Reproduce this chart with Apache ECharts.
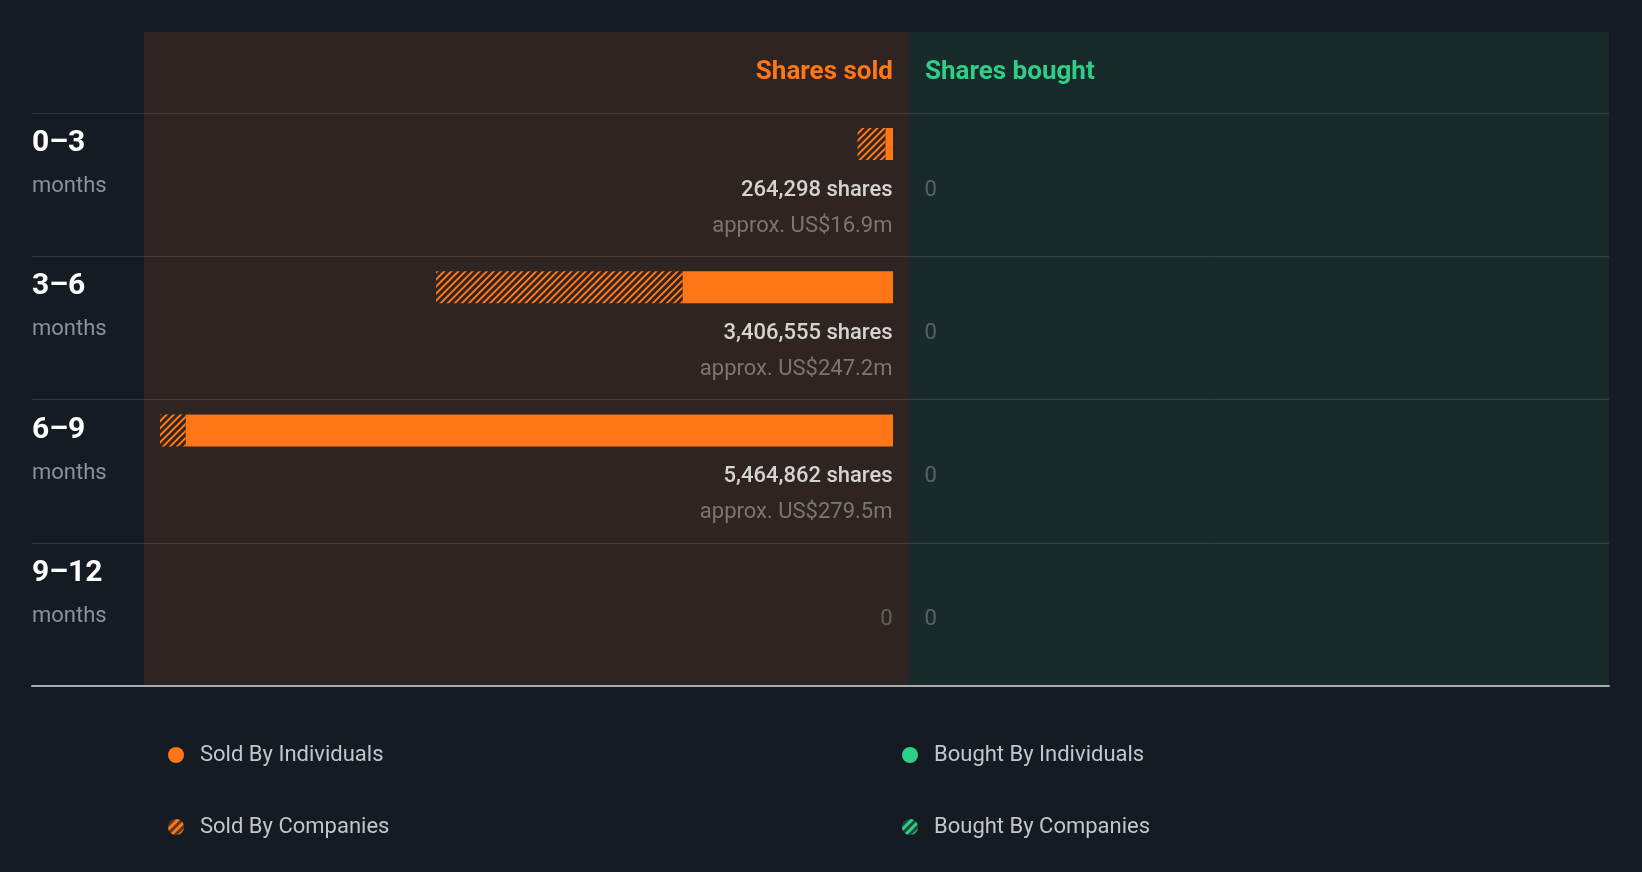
<!DOCTYPE html>
<html>
<head>
<meta charset="utf-8">
<script src="https://cdn.jsdelivr.net/npm/echarts@6/dist/echarts.min.js"></script>
<style>
html,body{margin:0;padding:0;background:#151b23;}
#chart{width:1642px;height:872px;}
</style>
</head>
<body>
<div id="chart"></div>
<script>
const categories = ['0–3', '3–6', '6–9', '9–12'];
const periodUnit = 'months';
const soldByIndividuals = [56000, 1568000, 5273000, 0];
const soldByCompanies = [208298, 1838555, 191862, 0];
const boughtByIndividuals = [0, 0, 0, 0];
const boughtByCompanies = [0, 0, 0, 0];
const soldValueUSDm = [16.9, 247.2, 279.5, 0];
const boughtValueUSDm = [0, 0, 0, 0];
const headerSold = 'Shares sold';
const headerBought = 'Shares bought';

const ORANGE = '#ff7617';
const GREEN = '#2fcd85';
const BG = '#151b23';
const SOLD_BG = '#2e2422';
const BOUGHT_BG = '#182b2a';
const FONT = 'Roboto, "Noto Sans", sans-serif';

const soldTotals = soldByIndividuals.map((v, i) => v + soldByCompanies[i]);
const boughtTotals = boughtByIndividuals.map((v, i) => v + boughtByCompanies[i]);
const axisMax = Math.max(...soldTotals, ...boughtTotals);

function hatch(color) {
  return { symbol: 'rect', symbolSize: 1, dashArrayX: [1, 0], dashArrayY: [2, 3], rotation: -Math.PI / 4, color: color, backgroundColor: 'rgba(0,0,0,0)' };
}
const richText = {
  s: { fontFamily: FONT, fontSize: 22, fontWeight: 500, color: '#ffffff', lineHeight: 36 },
  a: { fontFamily: FONT, fontSize: 22, color: '#8f8a88', lineHeight: 36 },
  z: { fontFamily: FONT, fontSize: 22, color: 'rgba(255,255,255,0.33)', lineHeight: 36 }
};
function totalLabel(totals, values) {
  return function (p) {
    const t = totals[p.dataIndex];
    if (!t) return '{z|0}';
    return '{s|' + t.toLocaleString('en-US') + ' shares}\n{a|approx. US$' + values[p.dataIndex].toFixed(1) + 'm}';
  };
}

const ROW_TOP = 113, ROW_H = 143.25, PLOT_H = ROW_H * 4;
const BAR_CENTER_OFF = 31;
const barGridTop = ROW_TOP + BAR_CENTER_OFF - ROW_H / 2;

const chart = echarts.init(document.getElementById('chart'), null, { renderer: 'canvas' });
const option = {
  backgroundColor: BG,
  animation: false,
  textStyle: { fontFamily: FONT },
  graphic: {
    elements: [
      { type: 'rect', z: -10, shape: { x: 144, y: 32, width: 765, height: 654 }, style: { fill: SOLD_BG }, silent: true },
      { type: 'rect', z: -10, shape: { x: 909, y: 32, width: 700, height: 654 }, style: { fill: BOUGHT_BG }, silent: true },
      { type: 'text', x: 893, y: 72.5, style: { text: headerSold, fill: ORANGE, font: 'bold 26px Roboto', textAlign: 'right', textVerticalAlign: 'middle' } },
      { type: 'text', x: 925, y: 72.5, style: { text: headerBought, fill: GREEN, font: 'bold 26px Roboto', textAlign: 'left', textVerticalAlign: 'middle' } }
    ]
  },
  grid: [
    { left: 160, width: 733, top: barGridTop, height: PLOT_H },
    { left: 925, width: 668, top: barGridTop, height: PLOT_H },
    { left: 32, width: 1577, top: ROW_TOP, height: PLOT_H }
  ],
  xAxis: [
    { gridIndex: 0, type: 'value', min: 0, max: axisMax, inverse: true, show: false },
    { gridIndex: 1, type: 'value', min: 0, max: axisMax, show: false },
    { gridIndex: 2, type: 'value', min: 0, max: 1, axisLine: { show: true, lineStyle: { color: '#a7aaae', width: 2 } }, axisTick: { show: false }, axisLabel: { show: false }, splitLine: { show: false } }
  ],
  yAxis: [
    { gridIndex: 0, type: 'category', data: categories, inverse: true, show: false },
    { gridIndex: 1, type: 'category', data: categories, inverse: true, show: false },
    {
      gridIndex: 2, type: 'category', data: categories, inverse: true,
      axisLine: { show: false }, axisTick: { show: false },
      splitLine: { show: true, lineStyle: { color: 'rgba(255,255,255,0.12)', width: 1 } },
      axisLabel: {
        margin: 0, align: 'left', padding: [4, 0, 43, 0],
        formatter: v => '{c|' + v + '}\n{m|' + periodUnit + '}',
        rich: {
          c: { fontFamily: FONT, fontSize: 30, fontWeight: 'bold', color: '#ffffff', lineHeight: 43 },
          m: { fontFamily: FONT, fontSize: 22, color: '#8b9099', lineHeight: 43 }
        }
      }
    }
  ],
  legend: [
    {
      orient: 'vertical', left: 163, top: 738, itemGap: 48, itemWidth: 16, itemHeight: 16, icon: 'circle',
      selectedMode: false,
      textStyle: { fontFamily: FONT, fontSize: 22, color: '#c3c6cb', lineHeight: 24, padding: [0, 0, 0, 11] },
      data: [
        { name: 'Sold By Individuals' },
        { name: 'Sold By Companies', itemStyle: { color: '#5a3a22', decal: { symbol: 'rect', symbolSize: 1, dashArrayX: [1, 0], dashArrayY: [3, 3], rotation: -Math.PI / 4, color: ORANGE } } }
      ]
    },
    {
      orient: 'vertical', left: 897, top: 738, itemGap: 48, itemWidth: 16, itemHeight: 16, icon: 'circle',
      selectedMode: false,
      textStyle: { fontFamily: FONT, fontSize: 22, color: '#c3c6cb', lineHeight: 24, padding: [0, 0, 0, 11] },
      data: [
        { name: 'Bought By Individuals' },
        { name: 'Bought By Companies', itemStyle: { color: '#1d4a3a', decal: { symbol: 'rect', symbolSize: 1, dashArrayX: [1, 0], dashArrayY: [3, 3], rotation: -Math.PI / 4, color: GREEN } } }
      ]
    }
  ],
  series: [
    { name: 'Sold By Individuals', type: 'bar', xAxisIndex: 0, yAxisIndex: 0, stack: 'sold', barWidth: 32, data: soldByIndividuals, itemStyle: { color: ORANGE }, silent: true },
    { name: 'Sold By Companies', type: 'bar', xAxisIndex: 0, yAxisIndex: 0, stack: 'sold', barWidth: 32, data: soldByCompanies, itemStyle: { color: 'rgba(0,0,0,0)', decal: hatch(ORANGE) }, silent: true },
    { name: 'Bought By Individuals', type: 'bar', xAxisIndex: 1, yAxisIndex: 1, stack: 'bought', barWidth: 32, data: boughtByIndividuals, itemStyle: { color: GREEN }, silent: true },
    { name: 'Bought By Companies', type: 'bar', xAxisIndex: 1, yAxisIndex: 1, stack: 'bought', barWidth: 32, data: boughtByCompanies, itemStyle: { color: 'rgba(0,0,0,0)', decal: hatch(GREEN) }, silent: true },
    {
      type: 'scatter', xAxisIndex: 0, yAxisIndex: 0, symbolSize: 1, itemStyle: { color: 'rgba(0,0,0,0)' }, silent: true,
      data: categories.map((c, i) => [0, i]),
      label: { show: true, position: [0, 28.5], align: 'right', verticalAlign: 'top', formatter: totalLabel(soldTotals, soldValueUSDm), rich: richText }
    },
    {
      type: 'scatter', xAxisIndex: 1, yAxisIndex: 1, symbolSize: 1, itemStyle: { color: 'rgba(0,0,0,0)' }, silent: true,
      data: categories.map((c, i) => [0, i]),
      label: { show: true, position: [0, 28.5], align: 'left', verticalAlign: 'top', formatter: totalLabel(boughtTotals, boughtValueUSDm), rich: richText }
    }
  ]
};
chart.setOption(option);
</script>
</body>
</html>
